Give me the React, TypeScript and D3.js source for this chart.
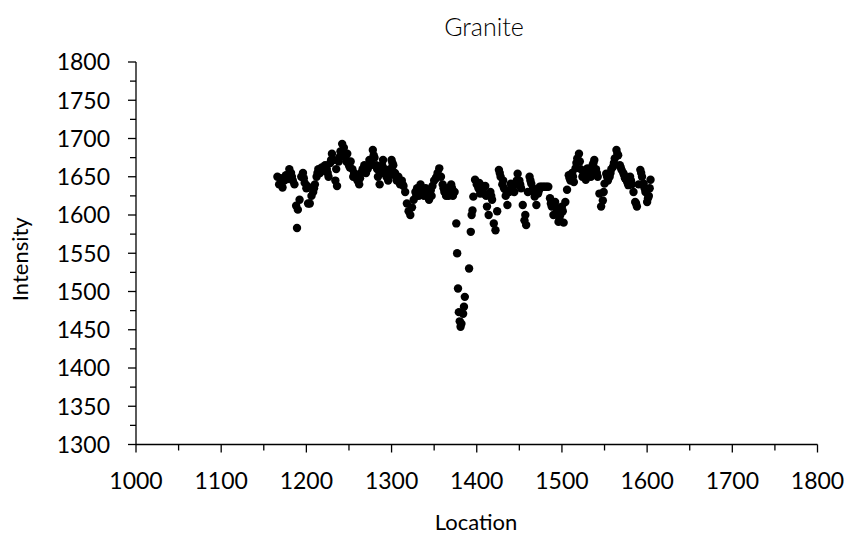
import React from "react";
import * as d3 from "d3";

const title = "Granite";
const xLabel = "Location";
const yLabel = "Intensity";
const xTicks = [1000, 1100, 1200, 1300, 1400, 1500, 1600, 1700, 1800];
const yTicks = [1300, 1350, 1400, 1450, 1500, 1550, 1600, 1650, 1700, 1750, 1800];

const location = [
  1166, 1168, 1170, 1172, 1174, 1176, 1178, 1180, 1182, 1184, 1186, 1188, 1189, 1190, 1192, 1194, 1196, 1198,
  1200, 1202, 1204, 1206, 1208, 1210, 1212, 1214, 1216, 1218, 1220, 1222, 1224, 1226, 1228, 1230, 1232, 1234,
  1236, 1238, 1240, 1242, 1244, 1246, 1248, 1250, 1252, 1254, 1256, 1258, 1260, 1262, 1264, 1266, 1268, 1270,
  1272, 1274, 1276, 1278, 1280, 1282, 1284, 1286, 1288, 1290, 1292, 1294, 1296, 1298, 1300, 1302, 1304, 1306,
  1308, 1310, 1312, 1314, 1316, 1318, 1320, 1322, 1324, 1326, 1328, 1330, 1332, 1334, 1336, 1338, 1340, 1342,
  1344, 1346, 1348, 1350, 1352, 1354, 1356, 1358, 1360, 1362, 1364, 1366, 1368, 1370, 1372, 1374, 1376, 1377,
  1378, 1379, 1380, 1381, 1382, 1384, 1385, 1386, 1391, 1393, 1394, 1395, 1396, 1398, 1400, 1402, 1404, 1406,
  1408, 1410, 1412, 1414, 1416, 1418, 1420, 1422, 1424, 1426, 1428, 1430, 1432, 1434, 1436, 1438, 1440, 1442,
  1444, 1446, 1448, 1450, 1452, 1454, 1456, 1458, 1460, 1462, 1464, 1466, 1468, 1470, 1472, 1474, 1476, 1478,
  1480, 1482, 1484, 1486, 1488, 1490, 1492, 1494, 1496, 1498, 1500, 1502, 1504, 1506, 1508, 1510, 1512, 1514,
  1516, 1518, 1520, 1522, 1524, 1526, 1528, 1530, 1532, 1534, 1536, 1538, 1540, 1542, 1544, 1546, 1548, 1550,
  1552, 1554, 1556, 1558, 1560, 1562, 1564, 1566, 1568, 1570, 1572, 1574, 1576, 1578, 1580, 1582, 1584, 1586,
  1588, 1590, 1592, 1594, 1596, 1598, 1600, 1602, 1604,
];

const intensity = [
  1650, 1640, 1648, 1636, 1645, 1652, 1647, 1660, 1655, 1645, 1640, 1612, 1583, 1607, 1620, 1650, 1655, 1642,
  1635, 1615, 1615, 1625, 1630, 1640, 1650, 1660, 1655, 1662, 1658, 1665, 1660, 1650, 1668, 1680, 1672, 1645,
  1638, 1670, 1683, 1693, 1688, 1675, 1680, 1665, 1670, 1660, 1655, 1650, 1645, 1640, 1655, 1660, 1665, 1655,
  1660, 1672, 1668, 1685, 1675, 1665, 1650, 1640, 1655, 1672, 1660, 1650, 1645, 1660, 1672, 1665, 1655, 1645,
  1650, 1640, 1645, 1638, 1630, 1615, 1605, 1600, 1610, 1620, 1630, 1635, 1625, 1640, 1630, 1625, 1635, 1628,
  1620, 1632, 1638, 1645, 1648, 1655, 1661, 1650, 1640, 1630, 1625, 1635, 1630, 1640, 1625, 1630, 1589, 1550,
  1504, 1473, 1461, 1454, 1458, 1471, 1480, 1493, 1530, 1578, 1600, 1606, 1624, 1646, 1640, 1635, 1628, 1638,
  1628, 1638, 1611, 1600, 1630, 1620, 1589, 1580, 1605, 1659, 1650, 1640, 1635, 1625, 1613, 1630, 1641, 1635,
  1630, 1640, 1654, 1645, 1635, 1613, 1593, 1587, 1630, 1650, 1641, 1635, 1624, 1613, 1628, 1637, 1637, 1637,
  1637, 1637, 1637, 1622, 1611, 1600, 1617, 1605, 1591, 1600, 1611, 1590, 1617, 1633, 1652, 1645, 1655, 1643,
  1661, 1674, 1680, 1660, 1650, 1655, 1646, 1661, 1655, 1650, 1665, 1672, 1660, 1650, 1628, 1611, 1619, 1641,
  1654, 1645, 1650, 1660, 1663, 1674, 1685, 1678, 1665, 1659, 1655, 1648, 1645, 1639, 1650, 1640, 1630, 1617,
  1611, 1640, 1659, 1650, 1641, 1630, 1617, 1625, 1646,
];

// additional readings at odd locations, where the band of dots is thick
const locationOdd = [
  1171, 1177, 1183, 1197, 1201, 1209, 1213, 1217, 1221, 1225, 1229, 1235, 1239, 1243, 1247, 1251, 1255, 1259,
  1263, 1267, 1271, 1275, 1279, 1283, 1289, 1293, 1297, 1301, 1305, 1309, 1313, 1329, 1335, 1341, 1347, 1353,
  1361, 1367, 1371, 1403, 1407, 1411, 1417, 1427, 1431, 1435, 1441, 1447, 1451, 1457, 1463, 1467, 1473, 1487,
  1493, 1497, 1501, 1509, 1513, 1517, 1521, 1525, 1529, 1533, 1537, 1541, 1549, 1553, 1557, 1561, 1565, 1569,
  1573, 1577, 1581, 1587, 1593, 1597, 1601, 1603,
];

const intensityOdd = [
  1642, 1650, 1650, 1648, 1638, 1635, 1655, 1660, 1660, 1655, 1672, 1660, 1676, 1680, 1670, 1662, 1650, 1648,
  1648, 1658, 1662, 1665, 1678, 1660, 1665, 1655, 1652, 1668, 1650, 1645, 1640, 1625, 1635, 1630, 1625, 1650,
  1635, 1625, 1635, 1642, 1632, 1625, 1625, 1655, 1645, 1630, 1638, 1645, 1640, 1600, 1645, 1630, 1632, 1615,
  1610, 1595, 1605, 1648, 1650, 1668, 1670, 1652, 1650, 1658, 1668, 1655, 1630, 1650, 1655, 1668, 1680, 1662,
  1652, 1642, 1645, 1615, 1655, 1635, 1622, 1635,
];

const W = 851;
const H = 540;
const FONT = "Lato, 'Open Sans', sans-serif";

export default function App() {
  const x = d3.scaleLinear().domain([1000, 1800]).range([136, 817.5]);
  const y = d3.scaleLinear().domain([1300, 1800]).range([444.5, 62]);
  const xMinor = d3.range(1050, 1800, 100);
  const yMinor = d3.range(1325, 1800, 50);
  const pts = location
    .map((l, i) => ({ l, v: intensity[i] }))
    .concat(locationOdd.map((l, i) => ({ l, v: intensityOdd[i] })));
  const axisColor = "#000";

  return (
    <div style={{ position: "absolute", left: 0, top: 0 }}>
      <svg width={W} height={H} style={{ display: "block", background: "#fff" }}>
        <text x={484} y={36} textAnchor="middle" fontFamily={FONT} fontWeight={300} fontSize={25} fill="#000">
          {title}
        </text>
        {/* y axis */}
        <line x1={x(1000)} x2={x(1000)} y1={y(1800)} y2={y(1300)} stroke={axisColor} strokeWidth={1.3} />
        {yTicks.map((t) => (
          <g key={"yt" + t}>
            <line x1={x(1000) - 8} x2={x(1000)} y1={y(t)} y2={y(t)} stroke={axisColor} strokeWidth={1.3} />
            <text x={110} y={y(t)} dy="0.36em" textAnchor="end" fontFamily={FONT} fontSize={23} fill="#000">
              {t}
            </text>
          </g>
        ))}
        {yMinor.map((t) => (
          <line key={"ym" + t} x1={x(1000) - 6} x2={x(1000)} y1={y(t)} y2={y(t)} stroke={axisColor} strokeWidth={1.3} />
        ))}
        {/* x axis */}
        <line x1={x(1000)} x2={x(1800)} y1={y(1300)} y2={y(1300)} stroke={axisColor} strokeWidth={1.3} />
        {xTicks.map((t) => (
          <g key={"xt" + t}>
            <line x1={x(t)} x2={x(t)} y1={y(1300)} y2={y(1300) + 8} stroke={axisColor} strokeWidth={1.3} />
            <text x={x(t)} y={489} textAnchor="middle" fontFamily={FONT} fontSize={23} fill="#000">
              {t}
            </text>
          </g>
        ))}
        {xMinor.map((t) => (
          <line key={"xm" + t} x1={x(t)} x2={x(t)} y1={y(1300)} y2={y(1300) + 6} stroke={axisColor} strokeWidth={1.3} />
        ))}
        <text x={476} y={530} textAnchor="middle" fontFamily={FONT} fontSize={22} fill="#000">
          {xLabel}
        </text>
        <text
          transform={`translate(28, ${(y(1800) + y(1300)) / 2 + 6}) rotate(-90)`}
          textAnchor="middle"
          fontFamily={FONT}
          fontSize={22}
          fill="#000"
        >
          {yLabel}
        </text>
        {pts.map((p, i) => (
          <circle key={i} cx={x(p.l)} cy={y(p.v)} r={4.2} fill="#000" />
        ))}
      </svg>
    </div>
  );
}
